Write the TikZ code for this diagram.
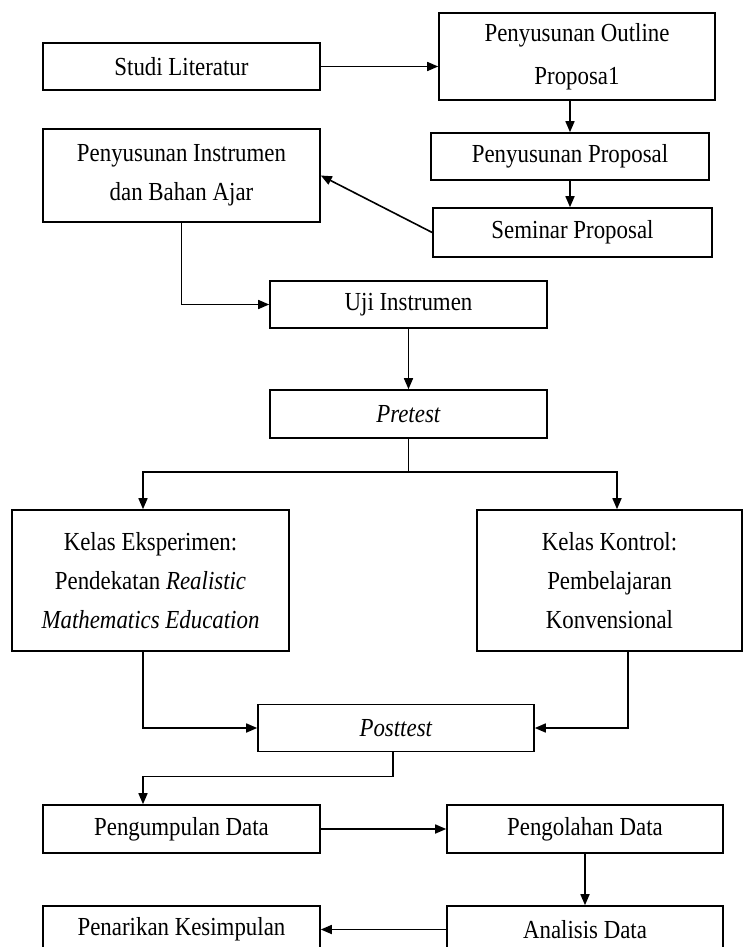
\documentclass[tikz,border=0pt]{standalone}
\usepackage{fontspec}
\setmainfont{Liberation Serif}[FakeStretch=0.88]
\usetikzlibrary{arrows.meta,calc}

\begin{document}
\begin{tikzpicture}[x=1pt,y=1pt,yscale=-1,
  box/.style={draw,line width=1.6pt,align=center,inner sep=2pt,
    font=\fontsize{26}{39}\selectfont},
  arr/.style={line width=1.6pt,-{Triangle[length=11pt,width=9pt]}}]
\useasboundingbox (0,0) rectangle (743,947);

% Boxes
\node[box,minimum width=277pt,minimum height=47pt] (studi) at (181.5,66.5) {Studi Literatur};
\node[box,minimum width=276pt,minimum height=87pt] (outline) at (577,56.5) {Penyusunan Outline\\[4pt]Proposa1};
\node[box,minimum width=278pt,minimum height=47pt] (prop) at (570,156.5) {Penyusunan Proposal};
\node[box,minimum width=279pt,minimum height=49pt] (seminar) at (572.5,232.5) {Seminar Proposal};
\node[box,minimum width=277pt,minimum height=93pt] (instr) at (181.5,175.5) {Penyusunan Instrumen\\dan Bahan Ajar};
\node[box,minimum width=277pt,minimum height=47pt] (uji) at (408.5,304.5) {Uji Instrumen};
\node[box,minimum width=277pt,minimum height=48pt] (pretest) at (408.5,414) {\textit{Pretest}};
\node[box,minimum width=277pt,minimum height=141pt] (eksp) at (150.5,580.5) {Kelas Eksperimen:\\Pendekatan \textit{Realistic}\\\textit{Mathematics Education}};
\node[box,minimum width=265pt,minimum height=141pt] (kontrol) at (609.5,580.5) {Kelas Kontrol:\\Pembelajaran\\Konvensional};
\node[box,minimum width=276pt,minimum height=47pt] (posttest) at (396,728) {\textit{Posttest}};
\node[box,minimum width=277pt,minimum height=48pt] (kumpul) at (181.5,829) {Pengumpulan Data};
\node[box,minimum width=276pt,minimum height=48pt] (olah) at (585,829) {Pengolahan Data};
\node[box,minimum width=276pt,minimum height=47pt] (analisis) at (585,929.5) {Analisis Data};
\node[box,minimum width=277pt,minimum height=47pt] (simpul) at (181.5,929.5) {Penarikan Kesimpulan};

% Connectors
\draw[arr] (studi.east) -- (studi.east -| outline.west);
\draw[arr] (prop.north |- outline.south) -- (prop.north);
\draw[arr] (prop.south) -- (prop.south |- seminar.north);
\draw[arr] (seminar.west) -- (instr.east);
\draw[arr] (instr.south) |- (uji.west);
\draw[arr] (uji.south) -- (pretest.north);
\coordinate (split) at ($(pretest.south)+(0,33)$);
\draw[arr] (pretest.south) -- (split) -| ($(eksp.north)+(-7.5,0)$);
\draw[arr] (split) -| ($(kontrol.north)+(7.5,0)$);
\draw[arr] ($(eksp.south)+(-7.5,0)$) |- (posttest.west);
\draw[arr] ($(kontrol.south)+(18.5,0)$) |- (posttest.east);
\coordinate (merge) at ($(posttest.south)+(-3,24)$);
\draw[arr] ($(posttest.south)+(-3,0)$) -- (merge) -| ($(kumpul.north)+(-38.5,0)$);
\draw[arr] (kumpul.east) -- (olah.west);
\draw[arr] (olah.south) -- (analisis.north);
\draw[arr] (analisis.west) -- (simpul.east);

\end{tikzpicture}
\end{document}
